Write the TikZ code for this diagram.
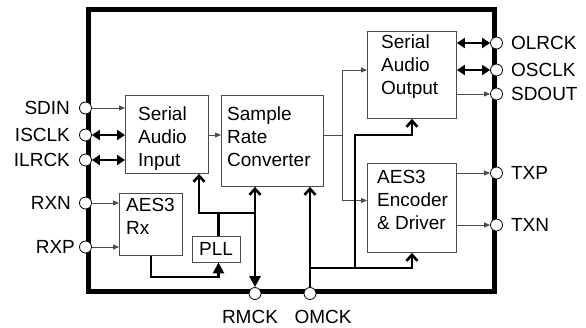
\documentclass[tikz,border=0pt]{standalone}
\usepackage{fontspec}
\setmainfont{Liberation Sans}
\usetikzlibrary{arrows.meta,positioning}
\tikzset{
  chipbox/.style={draw,line width=5pt,inner sep=0pt},
  blk/.style={draw=black!70,line width=0.9pt,inner sep=0pt,anchor=north west},
  blktxt/.style={anchor=north west,align=left,inner sep=0pt},
  pin/.style={circle,draw,fill=white,line width=0.8pt,minimum size=12pt,inner sep=0pt},
  pinlbl/.style={inner sep=0pt},
  sigline/.style={draw=black!70,line width=0.9pt},
  sig/.style={sigline,-{Triangle[length=6pt,width=5pt]}},
  bidir/.style={line width=2.6pt,{Triangle[length=8pt,width=10pt]}-{Triangle[length=8pt,width=10pt]}},
  clk/.style={line width=2.6pt},
  clkin/.style={clk,-{Straight Barb[length=6pt,width=11pt]}}
}
\begin{document}
\begin{tikzpicture}[x=1pt,y=-1pt,font=\fontsize{19}{23}\selectfont]
  \useasboundingbox (0,0) rectangle (586,327);
  % chip outline
  \node[chipbox,minimum width=406pt,minimum height=282pt] (chip) at (291,150) {};

  % blocks
  \node[blk,minimum width=83pt,minimum height=78pt] (sai) at (125,95) {};
  \node[blktxt] (sai-txt) at (138,107) {Serial\\Audio\\Input};
  \node[blk,minimum width=102pt,minimum height=91pt] (src) at (221,95) {};
  \node[blktxt] (src-txt) at (227,107) {Sample\\Rate\\Converter};
  \node[blk,minimum width=89pt,minimum height=87pt] (sao) at (367,31) {};
  \node[blktxt] (sao-txt) at (381,35) {Serial\\Audio\\Output};
  \node[blk,minimum width=89pt,minimum height=89pt] (enc) at (367,163) {};
  \node[blktxt] (enc-txt) at (377,170) {AES3\\Encoder\\\& Driver};
  \node[blk,minimum width=63pt,minimum height=62pt] (rx) at (119,193) {};
  \node[blktxt] (rx-txt) at (126,198) {AES3\\Rx};
  \node[blk,anchor=center,minimum width=48pt,minimum height=26pt] (pll) at (216,249) {PLL};

  % pins
  \node[pin] (sdin) at (chip.west |- 0,108) {};
  \node[pin] (isclk) at (chip.west |- 0,135) {};
  \node[pin] (ilrck) at (chip.west |- 0,160) {};
  \node[pin] (rxn) at (chip.west |- 0,203) {};
  \node[pin] (rxp) at (chip.west |- 0,247) {};
  \node[pin] (olrck) at (chip.east |- 0,43) {};
  \node[pin] (osclk) at (chip.east |- 0,70) {};
  \node[pin] (sdout) at (chip.east |- 0,94) {};
  \node[pin] (txp) at (chip.east |- 0,173) {};
  \node[pin] (txn) at (chip.east |- 0,225) {};
  \node[pin] (rmck) at (255,0 |- chip.south) {};
  \node[pin] (omck) at (310,0 |- chip.south) {};

  \node[pinlbl,left=9pt of sdin] (sdin-l) {SDIN};
  \node[pinlbl,left=9pt of isclk] (isclk-l) {ISCLK};
  \node[pinlbl,left=9pt of ilrck] (ilrck-l) {ILRCK};
  \node[pinlbl,left=8pt of rxn] (rxn-l) {RXN};
  \node[pinlbl,left=4pt of rxp] (rxp-l) {RXP};
  \node[pinlbl,right=8pt of olrck] (olrck-l) {OLRCK};
  \node[pinlbl,right=8pt of osclk] (osclk-l) {OSCLK};
  \node[pinlbl,right=8pt of sdout] (sdout-l) {SDOUT};
  \node[pinlbl,right=8pt of txp] (txp-l) {TXP};
  \node[pinlbl,right=8pt of txn] (txn-l) {TXN};
  \node[pinlbl,below=10pt of rmck,xshift=-5pt] (rmck-l) {RMCK};
  \node[pinlbl,below=10pt of omck,xshift=13pt] (omck-l) {OMCK};

  % audio data
  \draw[sig] (sdin) -- (sai.west |- sdin);
  \draw[bidir] (isclk) -- (sai.west |- isclk);
  \draw[bidir] (ilrck) -- (sai.west |- ilrck);
  \draw[sig] (sai.east |- isclk) -- (src.west |- isclk);
  \coordinate (split) at (342,135);
  \draw[sigline] (src.east |- split) -- (split);
  \draw[sig] (split) |- (sao.west |- osclk);
  \draw[sig] (split) |- ([yshift=7.5pt]enc.west);
  \draw[bidir] (sao.east |- olrck) -- (olrck);
  \draw[bidir] (sao.east |- osclk) -- (osclk);
  \draw[sig] (sao.east |- sdout) -- (sdout);
  \draw[sig] (enc.east |- txp) -- (txp);
  \draw[sig] (enc.east |- txn) -- (txn);
  \draw[sig] (rxn) -- (rx.west |- rxn);
  \draw[sig] (rxp) -- (rx.west |- rxp);

  % clocks
  \draw[clk,-{Triangle[length=11pt,width=11pt]}] (rx.south) -- (rx.south |- 0,277)
    -| ([xshift=2.5pt]pll.south);
  \coordinate (rclk) at (199,213);
  \draw[clk] ([xshift=2.5pt]pll.north) -- ([xshift=2.5pt]pll.north |- rclk);
  \draw[clkin] (rclk -| rmck) -- (rclk) -- (rclk |- sai.south);
  \draw[clk,{Straight Barb[length=6pt,width=11pt]}-{Triangle[length=11pt,width=11pt]}]
    (rmck |- src.south) -- (rmck);
  \coordinate (oclk) at (355,268);
  \draw[clkin] (omck) -- (omck |- src.south);
  \draw[clkin] (omck |- oclk) -| (enc.south);
  \draw[clkin] (oclk) |- (sao.south |- split) -- (sao.south);
\end{tikzpicture}
\end{document}
